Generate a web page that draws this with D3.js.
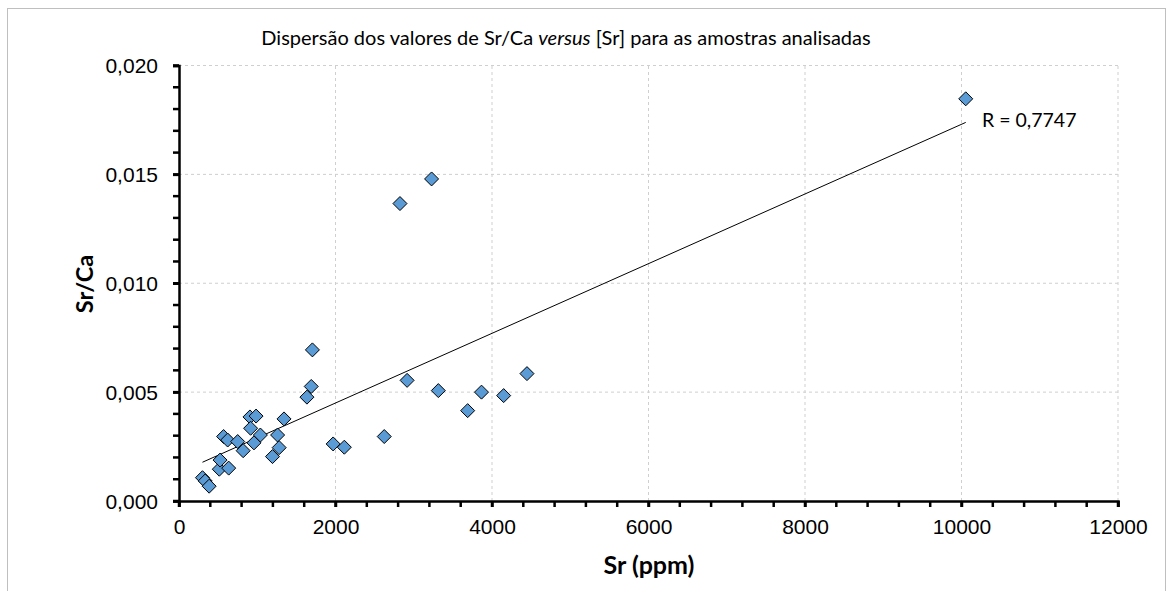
<!DOCTYPE html>
<html>
<head>
<meta charset="utf-8">
<script src="https://d3js.org/d3.v7.min.js"></script>
<style>
  body { margin: 0; background: #fff; }
  .tick text { font-family: "Liberation Sans", Arial, sans-serif; font-size: 21px; fill: #000; }
</style>
</head>
<body>
<svg id="chart" width="1174" height="591"></svg>
<script>
// Sr (ppm) and Sr/Ca for each sample
const srPpm = [300, 335, 385, 515, 525, 635, 570, 622, 750, 820,
               907, 985, 915, 958, 1040, 1195, 1260, 1280, 1342, 1635,
               1690, 1705, 1970, 2113, 2623, 2824, 2915, 3228, 3314, 3689,
               3866, 4149, 4447, 10054];
const srCa = [0.00107, 0.00092, 0.00068, 0.00146, 0.00188, 0.00151, 0.00296, 0.00280, 0.00273, 0.00231,
              0.00386, 0.00390, 0.00334, 0.00267, 0.00303, 0.00204, 0.00303, 0.00245, 0.00377, 0.00477,
              0.00526, 0.00694, 0.00262, 0.00247, 0.00296, 0.01366, 0.00554, 0.01479, 0.00507, 0.00415,
              0.00500, 0.00484, 0.00585, 0.01847];

// linear trendline as drawn in the picture
const trendSlope = 1.6e-6;
const trendIntercept = 0.0013;
const trendRange = [300, 10054];

const xTicks = [0, 2000, 4000, 6000, 8000, 10000, 12000];
const yTicks = [0, 0.005, 0.010, 0.015, 0.020];

const svg = d3.select("#chart");

// frame around the chart
svg.append("rect")
   .attr("x", 7.5).attr("y", 8.5)
   .attr("width", 1158).attr("height", 600)
   .attr("fill", "none").attr("stroke", "#bfbfbf").attr("stroke-width", 1);

const x = d3.scaleLinear().domain([0, 12000]).range([179, 1118]);
const y = d3.scaleLinear().domain([0, 0.02]).range([501, 65.5]);

// dashed grid
const grid = svg.append("g");
grid.selectAll("line.v").data(xTicks.slice(1))
    .join("line").attr("class", "v")
    .attr("x1", d => x(d)).attr("x2", d => x(d))
    .attr("y1", y(0)).attr("y2", y(0.02))
    .attr("stroke", "#cfcfcf").attr("stroke-dasharray", "3,3");
grid.selectAll("line.h").data(yTicks.slice(1))
    .join("line").attr("class", "h")
    .attr("x1", x(0)).attr("x2", x(12000))
    .attr("y1", d => y(d)).attr("y2", d => y(d))
    .attr("stroke", "#cfcfcf").attr("stroke-dasharray", "3,3");

// trendline
svg.append("line")
   .attr("x1", x(trendRange[0])).attr("y1", y(trendIntercept + trendSlope * trendRange[0]))
   .attr("x2", x(trendRange[1])).attr("y2", y(trendIntercept + trendSlope * trendRange[1]))
   .attr("stroke", "#000").attr("stroke-width", 1);

// minor ticks
const minor = svg.append("g");
minor.selectAll("line.mx").data(d3.range(0, 12001, 400))
     .join("line").attr("class", "mx")
     .attr("x1", d => x(d)).attr("x2", d => x(d))
     .attr("y1", y(0)).attr("y2", y(0) + 6)
     .attr("stroke", "#000").attr("stroke-width", 2.5);
minor.selectAll("line.my").data(d3.range(0, 21).map(i => i * 0.001))
     .join("line").attr("class", "my")
     .attr("x1", x(0) - 6).attr("x2", x(0))
     .attr("y1", d => y(d)).attr("y2", d => y(d))
     .attr("stroke", "#000").attr("stroke-width", 2.5);

// axes
const xAxis = svg.append("g")
   .attr("transform", `translate(0,${y(0)})`)
   .call(d3.axisBottom(x).tickValues(xTicks).tickSize(6).tickPadding(12).tickFormat(d3.format("d")));
const yAxis = svg.append("g")
   .attr("transform", `translate(${x(0)},0)`)
   .call(d3.axisLeft(y).tickValues(yTicks).tickSize(6).tickPadding(15)
          .tickFormat(d => d3.format(".3f")(d).replace(".", ",")));
[xAxis, yAxis].forEach(a => {
  a.select(".domain").attr("stroke", "#000").attr("stroke-width", 2.5);
  a.selectAll(".tick line").attr("stroke", "#000").attr("stroke-width", 2.5);
});
yAxis.selectAll(".tick text").attr("dy", "0.35em");

// points (diamonds)
const pts = srPpm.map((v, i) => ({sr: v, ratio: srCa[i]}));
const r = 7;
svg.append("g").selectAll("path").data(pts)
   .join("path")
   .attr("d", `M0,${-r}L${r},0L0,${r}L${-r},0Z`)
   .attr("transform", d => `translate(${x(d.sr)},${y(d.ratio)})`)
   .attr("fill", "#5b9bd5").attr("stroke", "#000").attr("stroke-width", 1);

// title
const title = svg.append("text")
   .attr("x", 566).attr("y", 45)
   .attr("text-anchor", "middle")
   .style("font-family", "Lato, 'Open Sans', sans-serif").style("font-size", "20px");
title.append("tspan").text("Dispersão dos valores de Sr/Ca ");
title.append("tspan").style("font-style", "italic").text("versus");
title.append("tspan").text(" [Sr] para as amostras analisadas");

// axis titles
svg.append("text")
   .attr("x", 649).attr("y", 574)
   .attr("text-anchor", "middle")
   .style("font-family", "Lato, sans-serif").style("font-weight", "bold").style("font-size", "25px")
   .text("Sr (ppm)");
svg.append("text")
   .attr("transform", "translate(93,284) rotate(-90)")
   .attr("text-anchor", "middle")
   .style("font-family", "Lato, sans-serif").style("font-weight", "bold").style("font-size", "23.5px")
   .text("Sr/Ca");

// correlation label
svg.append("text")
   .attr("x", 982).attr("y", 127)
   .style("font-family", "Lato, sans-serif").style("font-size", "19.5px")
   .text("R = 0,7747");
</script>
</body>
</html>
